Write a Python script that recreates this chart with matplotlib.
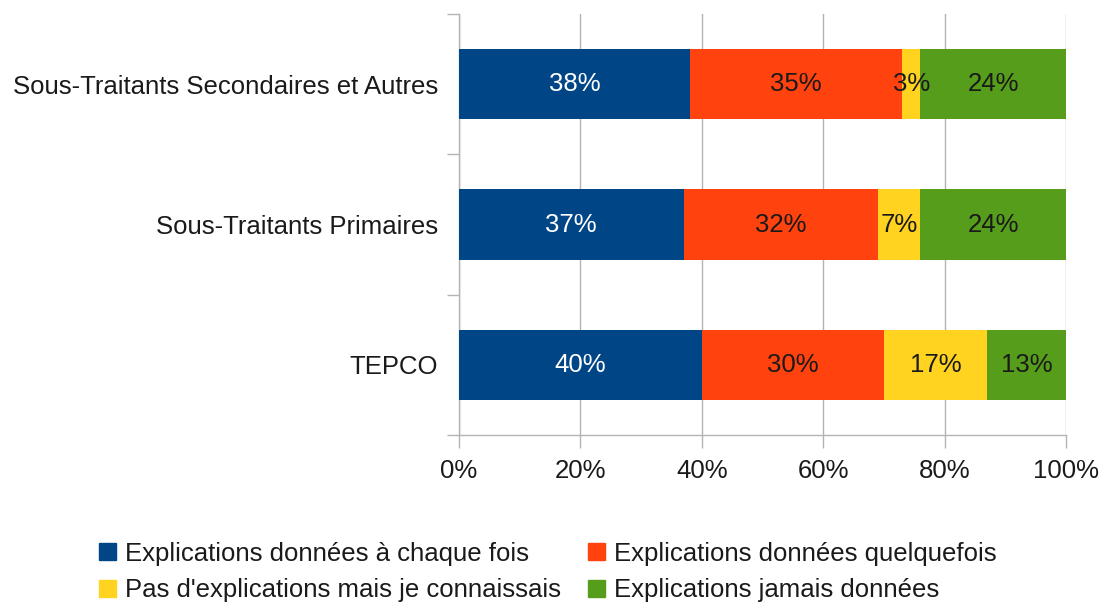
import matplotlib
matplotlib.use("Agg")
import matplotlib.pyplot as plt
from matplotlib.patches import Patch

plt.rcParams['font.family'] = ['Liberation Sans', 'DejaVu Sans']

categories = ["TEPCO", "Sous-Traitants Primaires", "Sous-Traitants Secondaires et Autres"]
series_names = ["Explications données à chaque fois",
                "Explications données quelquefois",
                "Pas d'explications mais je connaissais",
                "Explications jamais données"]
values = [
    [40, 37, 38],
    [30, 32, 35],
    [17, 7, 3],
    [13, 24, 24],
]
colors = ["#004586", "#ff420e", "#ffd320", "#579d1c"]
label_colors = ["white", "#1a1a1a", "#1a1a1a", "#1a1a1a"]
xticks = [0, 20, 40, 60, 80, 100]
xticklabels = ["0%", "20%", "40%", "60%", "80%", "100%"]

FS = 18.5
fig = plt.figure(figsize=(11, 6.03), dpi=100)
ax = fig.add_axes([459/1100, 1-435/603, (1066-459)/1100, (435-14)/603])

grid_c = "#b3b3b3"
ypos = list(range(len(categories)))
left = [0]*len(categories)
for s, name in enumerate(series_names):
    ax.barh(ypos, values[s], left=left, height=0.5, color=colors[s], zorder=3)
    for i in ypos:
        ax.text(left[i] + values[s][i]/2, i, f"{values[s][i]}%", ha="center", va="center",
                color=label_colors[s], fontsize=FS, zorder=4)
    left = [l + v for l, v in zip(left, values[s])]

ax.set_xlim(0, 100)
ax.set_ylim(-0.5, 2.5)
ax.set_xticks(xticks)
ax.set_xticklabels(xticklabels, fontsize=FS, color="#1a1a1a")
ax.set_yticks(ypos)
ax.set_yticklabels(categories, fontsize=FS, color="#1a1a1a")
ax.set_yticks([-0.5, 0.5, 1.5, 2.5], minor=True)
ax.tick_params(axis="y", which="major", length=0, pad=15)
ax.tick_params(axis="y", which="minor", length=9, color=grid_c, width=1)
ax.tick_params(axis="x", length=9, color=grid_c, width=1, pad=8.5)
ax.xaxis.grid(True, color=grid_c, linewidth=1, zorder=0)
for sp in ["top", "right"]:
    ax.spines[sp].set_visible(False)
for sp in ["left", "bottom"]:
    ax.spines[sp].set_color(grid_c)
    ax.spines[sp].set_linewidth(1)

handles = [Patch(color=c, label=n) for c, n in zip(colors, series_names)]
order = [0, 2, 1, 3]
fig.legend(handles=[handles[k] for k in order], loc="center",
           bbox_to_anchor=(0.498, 1-572/603), ncol=2,
           frameon=False, fontsize=FS, handlelength=0.65, handleheight=0.65,
           handletextpad=0.35, columnspacing=1.07, labelspacing=0.48,
           labelcolor="#1a1a1a")

fig.savefig("out.png", dpi=100)
